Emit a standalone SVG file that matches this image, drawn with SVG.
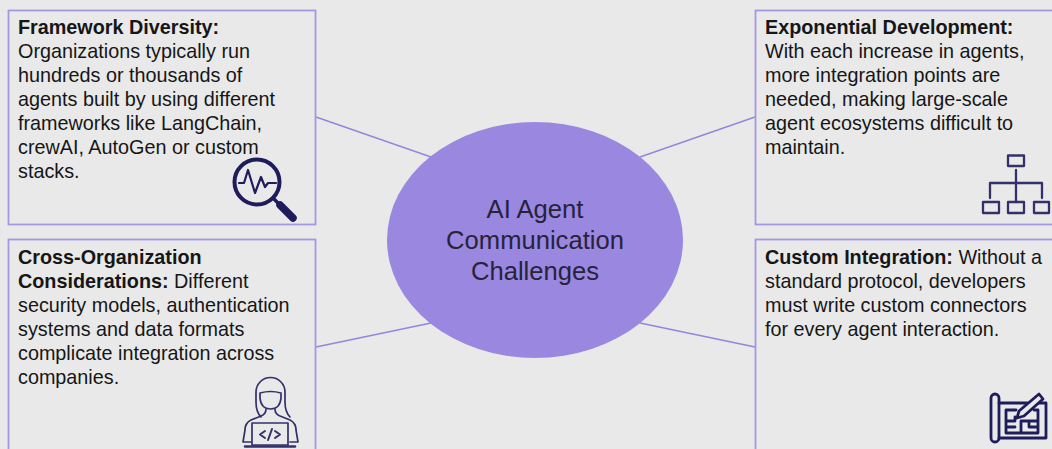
<svg xmlns="http://www.w3.org/2000/svg" width="1052" height="449" viewBox="0 0 1052 449">
<style>
.box{fill:#e9e9e9;stroke:#a398e2;stroke-width:1.800}
.line{stroke:#9387dc;stroke-width:1.500;fill:none}
text{font-family:"Liberation Sans",Arial,sans-serif;font-size:19.800px;fill:#161616}
.b{font-weight:700}
.c{font-size:25.600px;text-anchor:middle;fill:#26233a}
.n{fill:none;stroke:#1f1c5c;stroke-linecap:round;stroke-linejoin:round}
</style>
<rect width="1052" height="449" fill="#e9e9e9"/>
<g id="connectors">
<line class="line" x1="316" y1="117" x2="431" y2="157"/>
<line class="line" x1="316" y1="347" x2="431" y2="323"/>
<line class="line" x1="755" y1="117" x2="640" y2="157"/>
<line class="line" x1="755" y1="347" x2="640" y2="323"/>
</g>
<g id="center">
<ellipse cx="535" cy="240" rx="148" ry="118" fill="#9a87e0"/>
<text class="c" x="535" y="218">AI Agent</text>
<text class="c" x="535" y="249">Communication</text>
<text class="c" x="535" y="280">Challenges</text>
</g>
<g id="framework">
<rect class="box" x="8.500" y="10.500" width="307" height="214"/>
<text x="18" y="34" class="b">Framework Diversity:</text>
<text x="18" y="58">Organizations typically run</text>
<text x="18" y="82">hundreds or thousands of</text>
<text x="18" y="106">agents built by using different</text>
<text x="18" y="130">frameworks like LangChain,</text>
<text x="18" y="154">crewAI, AutoGen or custom</text>
<text x="18" y="178">stacks.</text>
<circle class="n" cx="257" cy="182" r="22.500" stroke-width="4"/>
<path class="n" stroke-width="2.200" d="M239 183h5l4-13 7 23 6-16 4 10 3-4h8"/>
<path class="n" stroke-width="3.500" d="M273 198l6 6"/>
<path class="n" stroke-width="7.500" d="M280 205l13 13"/>
</g>
<g id="exponential">
<rect class="box" x="755.500" y="10.500" width="310" height="214"/>
<text x="765" y="34" class="b">Exponential Development:</text>
<text x="765" y="58">With each increase in agents,</text>
<text x="765" y="82">more integration points are</text>
<text x="765" y="106">needed, making large-scale</text>
<text x="765" y="130">agent ecosystems difficult to</text>
<text x="765" y="154">maintain.</text>
<g class="n" stroke-width="2.300" style="stroke:#34316a">
<rect x="1008" y="155.500" width="16" height="10.500"/>
<rect x="983" y="202" width="16" height="11"/>
<rect x="1008" y="202" width="16" height="11"/>
<rect x="1034" y="202" width="15" height="11"/>
<path d="M1016 170v32M990 198v-15h52v15"/>
</g>
</g>
<g id="cross">
<rect class="box" x="8.500" y="239.500" width="307" height="220"/>
<text x="18" y="264" class="b">Cross-Organization</text>
<text x="18" y="288"><tspan class="b">Considerations:</tspan> Different</text>
<text x="18" y="312">security models, authentication</text>
<text x="18" y="336">systems and data formats</text>
<text x="18" y="360">complicate integration across</text>
<text x="18" y="384">companies.</text>
<g class="n" stroke-width="1.700" style="stroke:#34316a">
<path d="M261 417q-5-5-5-15v-10a14.500 14.500 0 0 1 29 0v10q0 10 5 15"/>
<path d="M260 393q10.500-3 21 0v5q-1 11-10.500 11t-10.500-11z"/>
<path d="M266 409q0 5-5 7l-10 4q-6 3-6 10l-2 12h8M275 409q0 5 5 7l10 4q6 3 6 10l2 12h-8"/>
<rect x="252" y="423" width="36" height="22"/>
<path d="M245 446.500h50" stroke-width="2.500"/>
<path d="M265 431l-5 3.500 5 3.500M275 431l5 3.500-5 3.500M268 440l4-11" stroke-width="2"/>
</g>
</g>
<g id="custom">
<rect class="box" x="755.500" y="239.500" width="310" height="220"/>
<text x="765" y="264"><tspan class="b">Custom Integration:</tspan> Without a</text>
<text x="765" y="288">standard protocol, developers</text>
<text x="765" y="312">must write custom connectors</text>
<text x="765" y="336">for every agent interaction.</text>
<g class="n" stroke-width="2.800">
<path d="M999 403h28M1037 403h9v35h-47"/>
<rect x="991" y="394" width="8" height="48" rx="4"/>
<path d="M1006 410h10M1006 410v23h32v-23h-4M1006 421h9v-4M1006 427h9M1021 421h17M1021 421v12M1029 421v6h9"/>
<path d="M1017 418l2-7 20-17 4 5-19 17z" fill="#e9e9e9"/>
</g>
</g>
</svg>
